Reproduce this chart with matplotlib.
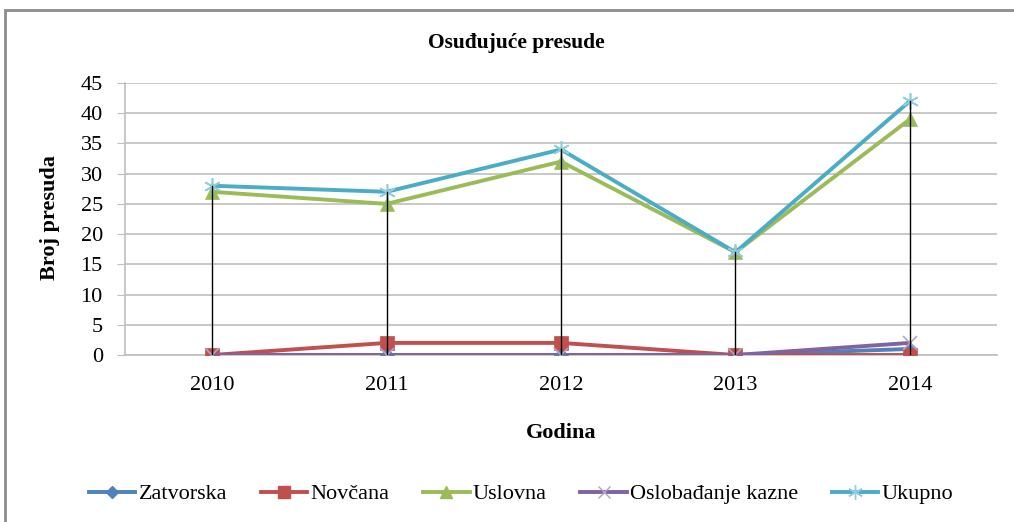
import matplotlib
matplotlib.use("Agg")
import matplotlib.pyplot as plt
from matplotlib.patches import Rectangle
from matplotlib.lines import Line2D

years = ["2010", "2011", "2012", "2013", "2014"]
zatvorska = [0, 0, 0, 0, 1]
novcana = [0, 2, 2, 0, 0]
uslovna = [27, 25, 32, 17, 39]
oslobadjanje = [0, 0, 0, 0, 2]
ukupno = [28, 27, 34, 17, 42]
series_names = ["Zatvorska", "Novčana", "Uslovna", "Oslobađanje kazne", "Ukupno"]
yticks = [0, 5, 10, 15, 20, 25, 30, 35, 40, 45]

plt.rcParams['font.family'] = ['Liberation Serif', 'DejaVu Serif']

fig = plt.figure(figsize=(10.14, 5.22), dpi=100)
W, H = 1014, 522
ax = fig.add_axes([125 / W, 1 - 355 / H, (997 - 125) / W, (355 - 83) / H])

x = list(range(len(years)))
data = [zatvorska, novcana, uslovna, oslobadjanje, ukupno]
colors = ["#4F81BD", "#C0504D", "#9BBB59", "#8064A2", "#4BACC6"]
markers = ["D", "s", "^", "x", (6, 2, 0)]
msizes = [7, 10, 10, 10, 12]
edge = {"x": "#B3A2C7", (6, 2, 0): "#93CDDD"}

for vals, c, m, ms, name in zip(data, colors, markers, msizes, series_names):
    mec = edge.get(m, c) if not isinstance(m, str) or m == "x" else c
    ax.plot(x, vals, color=c, lw=2.8, marker=m, markersize=ms,
            markerfacecolor=c, markeredgecolor=mec,
            markeredgewidth=1.2 if m in ("x", (6, 2, 0)) else 0.5,
            label=name, zorder=3)

# drop (high-low) lines
for i in x:
    col = [d[i] for d in data]
    ax.plot([i, i], [min(col), max(col)], color="black", lw=1.0, zorder=5)

ax.set_xlim(-0.5, 4.5)
ax.set_ylim(0, 45)
ax.set_yticks(yticks)
ax.set_xticks(x)
ax.set_xticklabels(years)
ax.yaxis.grid(True, color="#BFBFBF", lw=1.2)
ax.set_axisbelow(True)
for s in ["top", "right"]:
    ax.spines[s].set_visible(False)
for s in ["left", "bottom"]:
    ax.spines[s].set_color("#BFBFBF")
    ax.spines[s].set_linewidth(1.2)
ax.tick_params(axis="y", length=6, color="#BFBFBF", labelsize=16, pad=10)
ax.tick_params(axis="x", length=0, labelsize=16, pad=15)

fig.text(50 / W, 1 - 218 / H, "Broj presuda", rotation=90, ha="center", va="center",
         fontsize=16, fontweight="bold")
fig.text(561 / W, 1 - 433 / H, "Godina", ha="center", va="center",
         fontsize=16, fontweight="bold")
fig.text(516 / W, 1 - 43 / H, "Osuđujuće presude", ha="center", va="center",
         fontsize=15.5, fontweight="bold")

handles = []
for c, m, ms, name in zip(colors, markers, msizes, series_names):
    mec = edge.get(m, c) if not isinstance(m, str) or m == "x" else c
    handles.append(Line2D([], [], color=c, lw=2.8, marker=m, markersize=ms * 0.9,
                          markerfacecolor=c, markeredgecolor=mec, label=name))
fig.legend(handles=handles, loc="center", bbox_to_anchor=(521 / W, 1 - 494 / H),
           ncol=5, frameon=False, fontsize=16, handlelength=2.1, handletextpad=0.15,
           columnspacing=1.5)

# outer chart border
fig.patches.append(Rectangle((5 / W, -0.05), 1.2, 1 - 10 / H + 0.05, transform=fig.transFigure,
                             fill=False, edgecolor="#8C8C8C", lw=2.0))

fig.savefig("out.png", dpi=100)
